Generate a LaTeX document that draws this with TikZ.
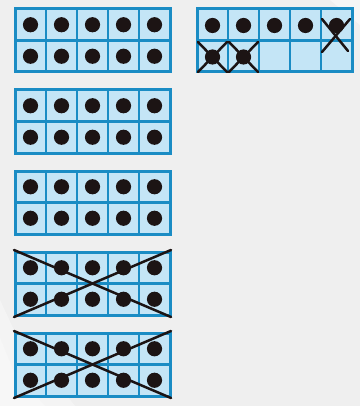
\documentclass[tikz,border=0pt]{standalone}
\definecolor{bg}{HTML}{EFEFEF}
\definecolor{frameblue}{HTML}{1A8CC4}
\definecolor{cellblue}{HTML}{C4E5F6}
\definecolor{dotblack}{HTML}{1C1414}
\newcommand\tenframe[4]{% x y cellw cellh
  \fill[cellblue] (#1,#2) rectangle ++(5*#3,2*#4);
  \foreach \i in {1,...,4} \draw[gridline] (#1+\i*#3,#2) -- ++(0,2*#4);
  \draw[gridline] (#1,#2+#4) -- ++(5*#3,0);
  \draw[outline] (#1,#2) rectangle ++(5*#3,2*#4);
}
\begin{document}
\begin{tikzpicture}[x=1pt,y=-1pt,
  gridline/.style={frameblue,line width=2.2},
  outline/.style={frameblue,line width=3},
  counter/.style={fill=dotblack},
  crossline/.style={draw=dotblack,line width=2.5,line cap=round}]
\fill[bg] (0,0) rectangle (360,406);
\useasboundingbox (0,0) rectangle (360,406);
% faint light streaks at bottom left
\fill[white,opacity=0.55] (0,338) -- (0,406) -- (45,406) -- (14,372) -- cycle;
\fill[white,opacity=0.35] (0,300) -- (0,338) -- (14,372) -- (45,406) -- (75,406) -- (14,330) -- cycle;
\fill[white,opacity=0.45] (330,0) -- (360,0) -- (360,25) -- cycle;
% left column of full ten-frames
\foreach \yy in {9,90,171,252,333}{
  \tenframe{15}{\yy}{31}{31.5}
  \foreach \i in {0,...,4}
    \foreach \j in {0,1}
      \fill[counter] (15+31*\i+15.5,\yy+31.5*\j+15.75) circle[radius=7.6];
}
% crosses on the 4th and 5th frames
\foreach \yy in {252,333}{
  \draw[crossline] (14,\yy-2) -- (171,\yy+65);
  \draw[crossline] (14,\yy+65) -- (171,\yy-2);
}
% top-right frame
\tenframe{197}{9}{31}{31.5}
\foreach \i in {0,...,4}
  \fill[counter] (197+31*\i+15.5,25.5) circle[radius=7.6];
\foreach \i in {0,1}
  \fill[counter] (197+31*\i+15.5,57) circle[radius=7.6];
\foreach \i in {0,1}{
  \draw[crossline] (198+31*\i,42) -- (227+31*\i,72);
  \draw[crossline] (227+31*\i,42) -- (198+31*\i,72);
}
\draw[crossline] (322,19) -- (348,51);
\draw[crossline] (350,19) -- (322,52);
\end{tikzpicture}
\end{document}
